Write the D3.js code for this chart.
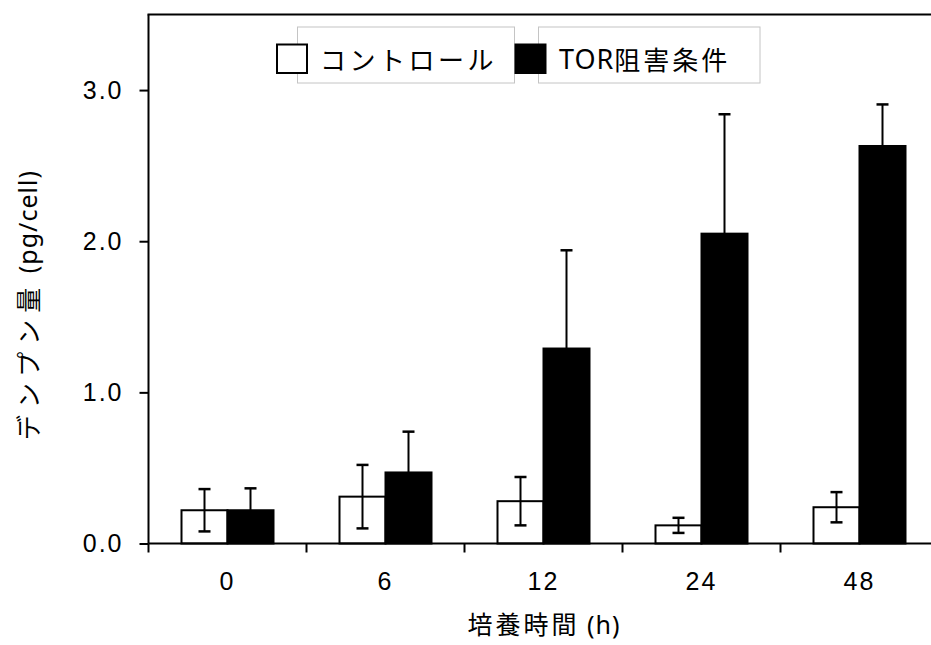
<!DOCTYPE html>
<html lang="ja">
<head>
    <meta charset="UTF-8">
    <title>デンプン量</title>
    <script src="https://cdn.jsdelivr.net/npm/d3@7"></script>
    <style>
        body { margin: 0; background: white; }
        svg { display: block; font-family: "Noto Sans", "Noto Sans CJK JP", sans-serif; }
        .cjk { font-family: "Noto Sans CJK JP", sans-serif; }
    </style>
</head>
<body>
<script>

    // DATA
    const categories = ["0", "6", "12", "24", "48"]
    const control = [0.22, 0.31, 0.28, 0.12, 0.24]
    const controlErr = [0.14, 0.21, 0.16, 0.05, 0.10]
    const tor = [0.22, 0.47, 1.29, 2.05, 2.63]
    const torErr = [0.145, 0.27, 0.65, 0.79, 0.275]
    const yTicks = [0, 1, 2, 3]
    const seriesNames = ["コントロール", "TOR阻害条件"]

    const W = 931, H = 645
    const plotL = 148.5, plotT = 14.5, plotB = 543.5, plotR = 938.5
    const barW = 46

    let svg = d3.select("body").append("svg")
                .attr("width", W).attr("height", H)

    // SCALES
    let x_scale = d3.scaleBand().domain(categories).range([plotL, plotR]).padding(0)
    let y_scale = d3.scaleLinear().domain([0, 3.5]).range([plotB, plotT])

    let rows = categories.map((c, i) => [
        {cat: c, v: control[i], e: controlErr[i], s: 0},
        {cat: c, v: tor[i], e: torErr[i], s: 1}
    ]).flat()

    let barX = d => x_scale(d.cat) + x_scale.bandwidth() / 2 + (d.s === 0 ? -barW : 0)

    // BARS
    svg.append("g").selectAll("rect").data(rows).join("rect")
        .attr("x", barX)
        .attr("y", d => y_scale(d.v))
        .attr("width", barW)
        .attr("height", d => y_scale(0) - y_scale(d.v))
        .style("fill", d => d.s === 0 ? "white" : "black")
        .style("stroke", "black")
        .style("stroke-width", 2)

    // ERROR BARS
    let err = svg.append("g").selectAll("g").data(rows).join("g")
                 .attr("transform", d => `translate(${barX(d) + barW / 2},0)`)
    err.append("line")
        .attr("y1", d => y_scale(d.v + d.e))
        .attr("y2", d => y_scale(d.s === 0 ? d.v - d.e : d.v))
        .style("stroke", "black").style("stroke-width", 2)
    err.append("line")
        .attr("x1", -6).attr("x2", 6)
        .attr("y1", d => y_scale(d.v + d.e)).attr("y2", d => y_scale(d.v + d.e))
        .style("stroke", "black").style("stroke-width", 2.5)
    err.filter(d => d.s === 0).append("line")
        .attr("x1", -6).attr("x2", 6)
        .attr("y1", d => y_scale(d.v - d.e)).attr("y2", d => y_scale(d.v - d.e))
        .style("stroke", "black").style("stroke-width", 2.5)

    // AXES
    const y_axis = d3.axisLeft(y_scale).tickValues(yTicks).tickSize(9).tickPadding(16)
                     .tickFormat(d3.format(".1f"))
    let gy = svg.append("g").attr("transform", `translate(${plotL},0)`).call(y_axis)
    gy.select(".domain").remove()
    gy.selectAll("line").style("stroke-width", 2)
    gy.selectAll("text").style("font-size", "25px").style("letter-spacing", "2px")

    const x_axis = d3.axisBottom(x_scale).tickSize(0).tickPadding(29)
    let gx = svg.append("g").attr("transform", `translate(0,${plotB})`).call(x_axis)
    gx.select(".domain").remove()
    gx.selectAll("text").style("font-size", "25px").style("letter-spacing", "2px")

    // GROUP BOUNDARY TICKS
    let bounds = categories.map(c => x_scale(c)).concat([x_scale.range()[1]])
    svg.append("g").selectAll("line").data(bounds).join("line")
        .attr("x1", d => d).attr("x2", d => d)
        .attr("y1", plotB).attr("y2", plotB + 9)
        .style("stroke", "black").style("stroke-width", 2)

    // FRAME LINES
    svg.append("line").attr("x1", plotL).attr("x2", plotR).attr("y1", plotB).attr("y2", plotB)
        .style("stroke", "black").style("stroke-width", 2)
    svg.append("line").attr("x1", plotL).attr("x2", plotL).attr("y1", plotT).attr("y2", plotB)
        .style("stroke", "black").style("stroke-width", 2)
    svg.append("line").attr("x1", plotL - 1).attr("x2", plotR).attr("y1", plotT).attr("y2", plotT)
        .style("stroke", "black").style("stroke-width", 2)

    // AXIS TITLES
    let xt = svg.append("text").attr("x", 544).attr("y", 634)
                .attr("text-anchor", "middle").style("font-size", "25px")
    xt.append("tspan").attr("class", "cjk").style("letter-spacing", "3px").text("培養時間")
    xt.append("tspan").style("letter-spacing", "1px").text(" (h)")

    let yt = svg.append("text").attr("transform", "translate(27,305) rotate(-90)")
                .attr("text-anchor", "middle").attr("dominant-baseline", "central")
                .style("font-size", "25px")
    yt.append("tspan").attr("class", "cjk").style("letter-spacing", "7px").text("デンプン量")
    yt.append("tspan").style("letter-spacing", "1px").text(" (pg/cell)")

    // LEGEND
    const boxes = [[297.5, 514.5], [538.5, 760]]
    const swatches = [277, 515.5]
    boxes.forEach(b => {
        svg.append("rect").attr("x", b[0]).attr("y", 27).attr("width", b[1] - b[0]).attr("height", 56)
            .style("fill", "white").style("stroke", "#c4c4c4").style("stroke-width", 1)
    })
    seriesNames.forEach((n, i) => {
        svg.append("rect").attr("x", swatches[i]).attr("y", 44.5).attr("width", 30).attr("height", 28.5)
            .style("fill", i === 0 ? "white" : "black").style("stroke", "black").style("stroke-width", 2)
    })
    let l1 = svg.append("text").attr("x", 320).attr("y", 58).attr("dominant-baseline", "central")
                .style("font-size", "26px")
    l1.append("tspan").attr("class", "cjk").style("letter-spacing", "3.5px").text(seriesNames[0])
    let l2 = svg.append("text").attr("x", 559).attr("y", 58).attr("dominant-baseline", "central")
                .style("font-size", "27px")
    l2.append("tspan").style("letter-spacing", "1px").text("TOR")
    l2.append("tspan").attr("class", "cjk").style("font-size", "26px").style("letter-spacing", "3px").text("阻害条件")

</script>
</body>
</html>
